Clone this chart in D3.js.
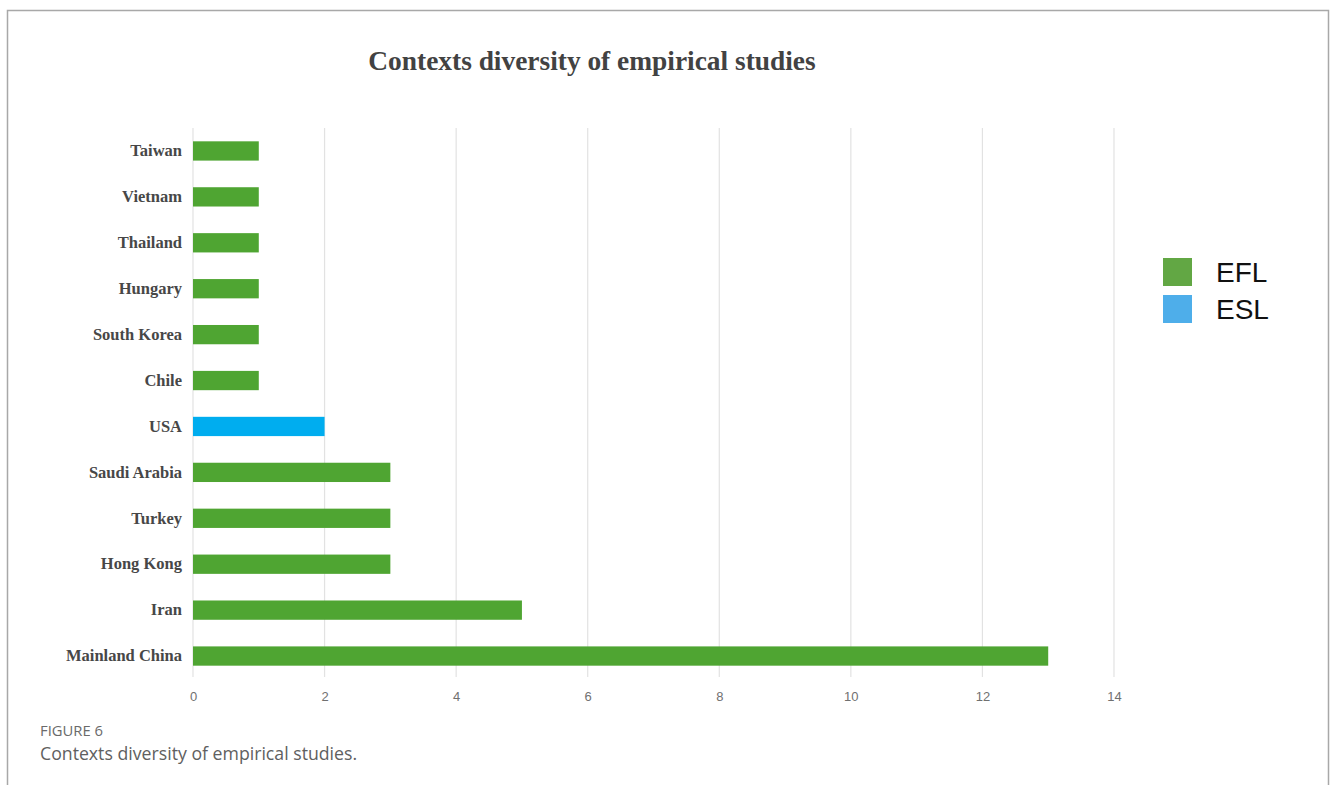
<!DOCTYPE html>
<html>
<head>
<meta charset="utf-8">
<script src="https://cdn.jsdelivr.net/npm/d3@7"></script>
<style>
  html, body { margin: 0; padding: 0; background: #fff; }
  svg { display: block; }
</style>
</head>
<body>
<svg id="chart" width="1330" height="785"></svg>
<script>
const categories = ["Taiwan", "Vietnam", "Thailand", "Hungary", "South Korea", "Chile", "USA", "Saudi Arabia", "Turkey", "Hong Kong", "Iran", "Mainland China"];
const values = [1, 1, 1, 1, 1, 1, 2, 3, 3, 3, 5, 13];
const types = ["EFL", "EFL", "EFL", "EFL", "EFL", "EFL", "ESL", "EFL", "EFL", "EFL", "EFL", "EFL"];
const xTicks = [0, 2, 4, 6, 8, 10, 12, 14];
const legendItems = ["EFL", "ESL"];

const barColor = { EFL: "#4fa532", ESL: "#00adef" };
const legendColor = { EFL: "#62a744", ESL: "#4eaeea" };

const svg = d3.select("#chart");

// frame
svg.append("path")
  .attr("d", "M7.5,785 V10.5 H1328.5 V785")
  .attr("fill", "none")
  .attr("stroke", "#a8a8a8")
  .attr("stroke-width", 1.5);

const x = d3.scaleLinear().domain([0, 14]).range([193, 1114]);
const y = d3.scaleBand().domain(categories).range([128, 679]).paddingInner(0.58).paddingOuter(0.29);

// title
svg.append("text")
  .attr("x", 592).attr("y", 70)
  .attr("text-anchor", "middle")
  .attr("font-family", "'Liberation Serif', 'Times New Roman', serif")
  .attr("font-weight", "bold")
  .attr("font-size", 27.4)
  .attr("fill", "#424242")
  .text("Contexts diversity of empirical studies");

// gridlines
svg.append("g").selectAll("line").data(xTicks).join("line")
  .attr("x1", d => x(d)).attr("x2", d => x(d))
  .attr("y1", 128).attr("y2", 677)
  .attr("stroke", "#e2e2e2").attr("stroke-width", 1.2);

// x axis labels
const xAxis = d3.axisBottom(x).tickValues(xTicks).tickSize(0).tickPadding(14);
const gx = svg.append("g").attr("transform", "translate(0,678)").call(xAxis);
gx.select(".domain").remove();
gx.selectAll("text")
  .attr("font-family", "'Liberation Sans', Arial, sans-serif")
  .attr("font-size", 13)
  .attr("fill", "#707070");

// y axis labels
const yAxis = d3.axisLeft(y).tickSize(0).tickPadding(11);
const gy = svg.append("g").attr("transform", "translate(193,0)").call(yAxis);
gy.select(".domain").remove();
gy.selectAll("text")
  .attr("font-family", "'Liberation Serif', 'Times New Roman', serif")
  .attr("font-weight", "bold")
  .attr("font-size", 16.5)
  .attr("fill", "#474747");

// bars
svg.append("g").selectAll("rect").data(categories).join("rect")
  .attr("x", x(0))
  .attr("y", d => y(d))
  .attr("width", (d, i) => x(values[i]) - x(0))
  .attr("height", y.bandwidth())
  .attr("fill", (d, i) => barColor[types[i]]);

// legend
const lg = svg.append("g").selectAll("g").data(legendItems).join("g")
  .attr("transform", (d, i) => `translate(1163,${258 + i * 37})`);
lg.append("rect").attr("width", 29).attr("height", 28).attr("fill", d => legendColor[d]);
lg.append("text")
  .attr("x", 53).attr("y", 24)
  .attr("font-family", "'Liberation Sans', Arial, sans-serif")
  .attr("font-size", 28)
  .attr("fill", "#111")
  .text(d => d);

// caption
svg.append("text")
  .attr("x", 40).attr("y", 736)
  .attr("font-family", "'Open Sans', 'Noto Sans', sans-serif")
  .attr("font-size", 14.8)
  .attr("fill", "#6a6a6a")
  .text("FIGURE 6");
svg.append("text")
  .attr("x", 40).attr("y", 760)
  .attr("font-family", "'Open Sans', 'Noto Sans', sans-serif")
  .attr("font-size", 17.7)
  .attr("fill", "#606060")
  .text("Contexts diversity of empirical studies.");
</script>
</body>
</html>
